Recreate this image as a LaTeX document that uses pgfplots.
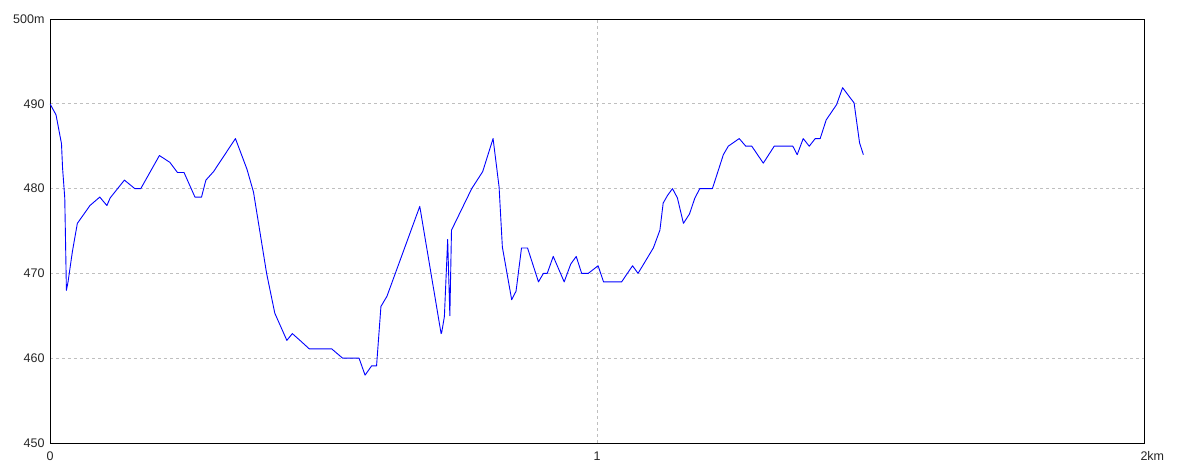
\documentclass[border=0pt]{standalone}
\usepackage{pgfplots}
\pgfplotsset{compat=1.18}
\usepackage{fontspec}
\setmainfont{Liberation Sans}
\begin{document}
\begin{tikzpicture}[x=1pt,y=1pt]
\useasboundingbox (0,0) rectangle (1184,473);
\begin{axis}[
  at={(50pt,30pt)}, anchor=south west,
  width=1094pt, height=424pt, scale only axis,
  xmin=0, xmax=2, ymin=450, ymax=500,
  xtick={0,1,2}, xticklabels={0,1,2\rlap{km}},
  ytick={450,460,470,480,490,500}, yticklabels={450,460,470,480,490,500m},
  major tick length=0pt,
  grid=major,
  major grid style={draw=black!25, dash pattern=on 3pt off 3pt, line width=0.8pt},
  axis line style={black, line width=0.8pt},
  tick label style={font=\fontsize{12.5}{14}\selectfont, text=black!85},
  xticklabel style={yshift=-5pt},
  yticklabel style={xshift=-2pt},
  /pgf/number format/assume math mode=true,
  clip=true,
]
\addplot[blue, line width=0.9pt, line join=round] coordinates {
(0,490) (0.011,488.7) (0.021,485.3) (0.023,482.4) (0.027,478.9) (0.030,468)
(0.033,469) (0.041,472.6) (0.050,475.9) (0.061,476.9) (0.073,478) (0.091,479)
(0.104,478) (0.110,478.9) (0.136,481) (0.155,480) (0.166,480) (0.200,483.9)
(0.219,483.1) (0.233,481.9) (0.245,481.9) (0.265,479) (0.277,479) (0.285,481)
(0.299,482) (0.339,485.9) (0.360,482.3) (0.372,479.6) (0.396,470) (0.411,465.3)
(0.433,462.1) (0.443,462.9) (0.457,462.1) (0.474,461.1) (0.515,461.1) (0.535,460)
(0.565,460) (0.576,458) (0.588,459.1) (0.597,459.1) (0.605,466.1) (0.616,467.3)
(0.676,477.9) (0.715,462.9) (0.716,463) (0.721,464.9) (0.727,474) (0.731,465)
(0.734,475.1) (0.771,480) (0.791,482) (0.810,485.9) (0.821,480.2) (0.827,473.1)
(0.844,466.9) (0.852,467.9) (0.862,473) (0.873,473) (0.893,469) (0.902,470)
(0.909,470) (0.920,472) (0.940,469) (0.952,471.1) (0.962,472) (0.972,470)
(0.984,470) (1.002,470.9) (1.012,469) (1.045,469) (1.065,470.9) (1.075,470)
(1.103,473) (1.115,475.1) (1.121,478.3) (1.129,479.2) (1.138,480) (1.147,478.9)
(1.158,475.9) (1.169,477) (1.179,478.9) (1.188,480) (1.211,480) (1.222,482.2)
(1.231,484) (1.240,485) (1.260,485.9) (1.272,485) (1.283,485) (1.304,483)
(1.324,485) (1.358,485) (1.366,484) (1.377,485.9) (1.388,485) (1.399,485.9)
(1.408,485.9) (1.419,488.1) (1.438,489.9) (1.449,491.9) (1.470,490.1) (1.480,485.4)
(1.487,484)
};
\end{axis}
\end{tikzpicture}
\end{document}
